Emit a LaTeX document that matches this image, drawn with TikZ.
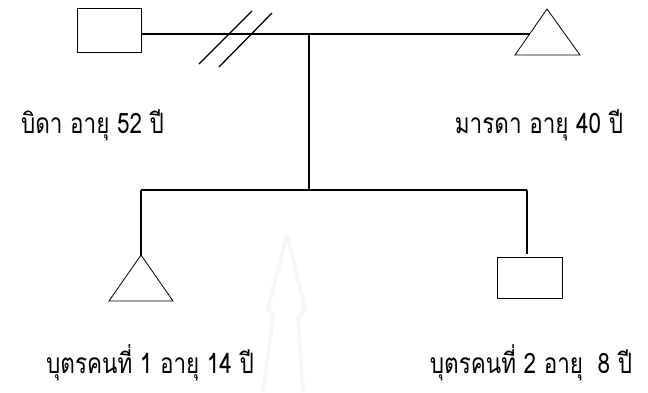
\documentclass[tikz,border=0pt]{standalone}
\usepackage{graphicx}
\usepackage{fontspec}
\newfontfamily\thaifont[Script=Thai]{Loma}
\newcommand\tallthai[1]{\scalebox{1}[1.25]{#1}}
\begin{document}
\begin{tikzpicture}[x=1pt,y=-1pt,
  rel/.style={line width=1.3pt},
  shp/.style={draw,line width=0.8pt,inner sep=0pt,fill=white},
  lbl/.style={font=\thaifont\fontsize{22.5}{25}\selectfont,anchor=base,inner sep=0pt},
  wm/.style={draw=gray!7,line width=4pt,line join=round}]
\useasboundingbox (0,0) rectangle (648,392);
% watermark
\draw[wm] (263,392) -- (273,317) -- (268,308) -- (287,235) -- (305,308) -- (298,318) -- (303,392);
% parents
\node[shp,minimum width=64pt,minimum height=44pt] (father) at (109,30) {};
\coordinate (mtop) at (547,9);
\coordinate (mbl) at (515,55);
\coordinate (mbr) at (580,55);
\draw[line width=0.8pt] (mtop) -- (mbl) -- (mbr) -- cycle;
\coordinate (mjoin) at (529.5,34);
\draw[rel] (father.east |- mjoin) -- (mjoin);
% divorce slashes
\coordinate (s1a) at (199,64); \coordinate (s1b) at (252,11);
\coordinate (s2a) at (219,67); \coordinate (s2b) at (272,13);
\draw[rel] (s1a) -- (s1b);
\draw[rel] (s2a) -- (s2b);
% descent line
\coordinate (mid) at (309,34);
\coordinate (sib) at (309,190);
\coordinate (sibl) at (141,190);
\coordinate (sibr) at (527,190);
\draw[rel] (mid) -- (sib);
\draw[rel] (sibl) -- (sibr);
% child 1 triangle
\coordinate (c1top) at (141,255);
\coordinate (c1bl) at (109,301);
\coordinate (c1br) at (173,301);
\draw[rel] (sibl) -- (c1top);
\draw[line width=0.8pt] (c1top) -- (c1bl) -- (c1br) -- cycle;
% child 2 square
\node[shp,minimum width=65pt,minimum height=41pt] (c2) at (529.5,277.5) {};
\coordinate (c2end) at (527,254);
\draw[rel] (sibr) -- (c2end);
% labels
\node[lbl] (lf) at (92.5,133) {\tallthai{บิดา อายุ 52 ปี}};
\node[lbl] (lm) at (539,133) {\tallthai{มารดา อายุ 40 ปี}};
\node[lbl] (l1) at (150,373) {\tallthai{บุตรคนที่ 1 อายุ 14 ปี}};
\node[lbl] (l2) at (531,373) {\tallthai{บุตรคนที่ 2 อายุ\hspace{7pt} 8 ปี}};
\end{tikzpicture}
\end{document}
